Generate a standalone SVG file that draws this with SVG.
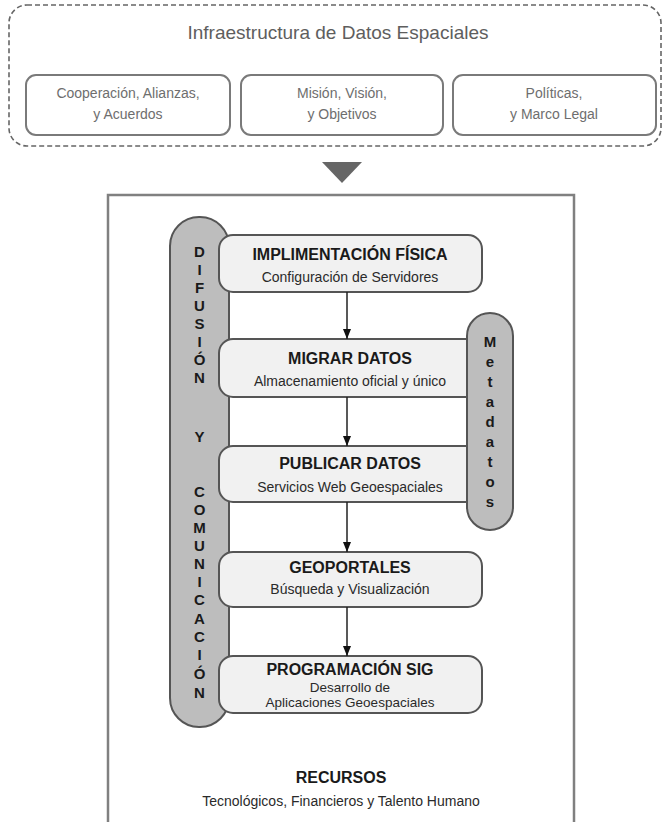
<svg xmlns="http://www.w3.org/2000/svg" width="663" height="822" viewBox="0 0 663 822">
<defs>
<style>
.t{font-family:"Liberation Sans",Arial,sans-serif;text-anchor:middle}
.top{fill:#6e6e6e;font-size:14px}
.ttl{fill:#5e5e5e;font-size:19px}
.hd{fill:#1a1a1a;font-size:16px;font-weight:bold}
.sb{fill:#2a2a2a;font-size:14px}
.sb2{fill:#2a2a2a;font-size:13.5px}
.vl{fill:#1a1a1a;font-size:15px;font-weight:bold}
.tb{fill:#fff;stroke:#7a7a7a;stroke-width:2}
.box{fill:#f1f1f1;stroke:#555;stroke-width:2}
.pill{fill:#bdbdbd;stroke:#555;stroke-width:2}
.arr{stroke:#222;stroke-width:1.5;fill:none}
</style>
<marker id="ah" viewBox="0 0 10 10" refX="10" refY="5" markerWidth="10" markerHeight="10" markerUnits="userSpaceOnUse" orient="auto">
<path d="M0,1 L10,5 L0,9 Z" fill="#111"/>
</marker>
</defs>
<rect width="663" height="822" fill="#fff"/>

<g id="ide">
<rect x="9" y="5" width="652" height="141" rx="18" fill="none" stroke="#666" stroke-width="1.6" stroke-dasharray="5 3"/>
<text class="t ttl" x="338" y="39">Infraestructura de Datos Espaciales</text>
</g>
<g id="cooperacion">
<rect class="tb" x="26" y="75" width="204" height="60" rx="10"/>
<text class="t top" x="128" y="98">Cooperación, Alianzas,</text>
<text class="t top" x="128" y="119">y Acuerdos</text>
</g>
<g id="mision">
<rect class="tb" x="241" y="75" width="202" height="60" rx="10"/>
<text class="t top" x="342" y="98">Misión, Visión,</text>
<text class="t top" x="342" y="119">y Objetivos</text>
</g>
<g id="politicas">
<rect class="tb" x="453" y="75" width="203" height="60" rx="10"/>
<text class="t top" x="554" y="98">Políticas,</text>
<text class="t top" x="554" y="119">y Marco Legal</text>
</g>

<g id="flecha-principal">
<polygon points="322,162 362,162 342,183" fill="#666"/>
</g>

<g id="recursos">
<rect x="108" y="195" width="466" height="630" fill="#fff" stroke="#808080" stroke-width="2.5"/>
<text class="t hd" x="341" y="783">RECURSOS</text>
<text class="t sb" x="341" y="806">Tecnológicos, Financieros y Talento Humano</text>
</g>

<g id="difusion">
<rect class="pill" x="170" y="217" width="59" height="510" rx="29"/>
<g class="t vl">
<text x="199.5" y="257">D</text>
<text x="199.5" y="275">I</text>
<text x="199.5" y="293">F</text>
<text x="199.5" y="311">U</text>
<text x="199.5" y="329">S</text>
<text x="199.5" y="347">I</text>
<text x="199.5" y="365">Ó</text>
<text x="199.5" y="383">N</text>
<text x="199.5" y="442">Y</text>
<text x="199.5" y="497">C</text>
<text x="199.5" y="515">O</text>
<text x="199.5" y="533">M</text>
<text x="199.5" y="551">U</text>
<text x="199.5" y="569">N</text>
<text x="199.5" y="587">I</text>
<text x="199.5" y="605">C</text>
<text x="199.5" y="624">A</text>
<text x="199.5" y="642">C</text>
<text x="199.5" y="660">I</text>
<text x="199.5" y="679">Ó</text>
<text x="199.5" y="698">N</text>
</g>
</g>

<g id="implementacion">
<rect class="box" x="219" y="235" width="263" height="57" rx="14"/>
<text class="t hd" x="350" y="260">IMPLIMENTACIÓN FÍSICA</text>
<text class="t sb" x="350" y="282">Configuración de Servidores</text>
</g>
<g id="migrar">
<rect class="box" x="219" y="339" width="263" height="58" rx="14"/>
<text class="t hd" x="350" y="364">MIGRAR DATOS</text>
<text class="t sb" x="350" y="386">Almacenamiento oficial y único</text>
</g>
<g id="publicar">
<rect class="box" x="219" y="446" width="263" height="56" rx="14"/>
<text class="t hd" x="350" y="469">PUBLICAR DATOS</text>
<text class="t sb" x="350" y="492">Servicios Web Geoespaciales</text>
</g>
<g id="geoportales">
<rect class="box" x="219" y="552" width="263" height="55" rx="14"/>
<text class="t hd" x="350" y="573">GEOPORTALES</text>
<text class="t sb" x="350" y="594">Búsqueda y Visualización</text>
</g>
<g id="programacion">
<rect class="box" x="219" y="656" width="263" height="57" rx="14"/>
<text class="t hd" x="350" y="675">PROGRAMACIÓN SIG</text>
<text class="t sb2" x="350" y="692">Desarrollo de</text>
<text class="t sb2" x="350" y="707">Aplicaciones Geoespaciales</text>
</g>

<g id="metadatos">
<rect class="pill" x="467" y="313" width="46" height="217" rx="23"/>
<g class="t vl">
<text x="490" y="347">M</text>
<text x="490" y="367">e</text>
<text x="490" y="387">t</text>
<text x="490" y="407">a</text>
<text x="490" y="427">d</text>
<text x="490" y="447">a</text>
<text x="490" y="467">t</text>
<text x="490" y="487">o</text>
<text x="490" y="507">s</text>
</g>
</g>

<g id="conectores">
<line class="arr" x1="347" y1="292" x2="347" y2="339" marker-end="url(#ah)"/>
<line class="arr" x1="347" y1="397" x2="347" y2="446" marker-end="url(#ah)"/>
<line class="arr" x1="347" y1="502" x2="347" y2="552" marker-end="url(#ah)"/>
<line class="arr" x1="347" y1="607" x2="347" y2="656" marker-end="url(#ah)"/>
</g>
</svg>
